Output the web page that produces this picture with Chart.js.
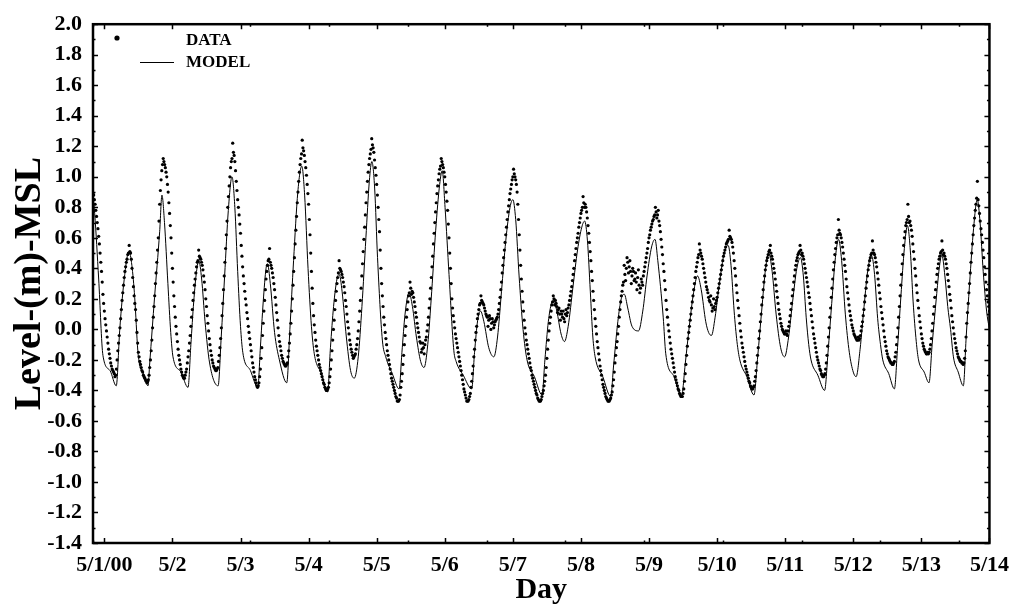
<!DOCTYPE html>
<html>
<head>
<meta charset="utf-8">
<script src="https://cdn.jsdelivr.net/npm/chart.js@4.4.1/dist/chart.umd.min.js"></script>
<style>
  html, body { margin: 0; padding: 0; background: #fff; }
</style>
</head>
<body>
<canvas id="tide" width="1018" height="611"></canvas>
<script>
// observed level, one reading every half hour from 4 h before 5/1 00:00
const dataStartHour = -4;
const dataStepHour = 0.5;
const dataLevel = [
  0.89, 0.85, 0.78, 0.70, 0.61, 0.50, 0.38, 0.23,
  0.12, 0.03, -0.05, -0.13, -0.19, -0.24, -0.27, -0.29, -0.30, -0.20, -0.09, 0.01, 0.13, 0.24, 0.34, 0.41, 0.46, 0.50, 0.51, 0.46, 0.34, 0.22, 0.13, -0.02,
  -0.15, -0.21, -0.25, -0.28, -0.31, -0.33, -0.35, -0.33, -0.25, -0.14, 0.01, 0.15, 0.30, 0.44, 0.60, 0.82, 0.98, 1.08, 1.10, 1.06, 1.00, 0.90, 0.76, 0.60,
  0.40, 0.22, 0.08, -0.03, -0.13, -0.20, -0.26, -0.30, -0.32, -0.30, -0.26, -0.18, -0.09, 0.02, 0.13, 0.24, 0.33, 0.41, 0.45, 0.48, 0.46, 0.42, 0.35, 0.26,
  0.15, 0.04, -0.06, -0.14, -0.20, -0.24, -0.26, -0.27, -0.25, -0.17, -0.06, 0.09, 0.26, 0.44, 0.62, 0.80, 0.94, 1.06, 1.12, 1.16, 1.10, 0.97, 0.85, 0.75,
  0.63, 0.48, 0.35, 0.25, 0.16, 0.07, -0.02, -0.10, -0.18, -0.25, -0.31, -0.35, -0.38, -0.35, -0.26, -0.12, 0.04, 0.19, 0.33, 0.42, 0.46, 0.44, 0.40, 0.34,
  0.26, 0.16, 0.06, -0.04, -0.11, -0.17, -0.21, -0.23, -0.24, -0.22, -0.14, -0.03, 0.12, 0.29, 0.47, 0.65, 0.83, 0.97, 1.08, 1.15, 1.19, 1.14, 1.06, 0.95,
  0.82, 0.62, 0.38, 0.17, 0.03, -0.07, -0.14, -0.20, -0.25, -0.29, -0.33, -0.36, -0.39, -0.40, -0.38, -0.31, -0.20, -0.07, 0.06, 0.19, 0.30, 0.37, 0.40, 0.38,
  0.34, 0.28, 0.19, 0.10, 0.01, -0.07, -0.13, -0.17, -0.18, -0.16, -0.10, -0.01, 0.12, 0.27, 0.43, 0.59, 0.75, 0.90, 1.03, 1.12, 1.18, 1.21, 1.16, 1.06,
  0.95, 0.80, 0.64, 0.40, 0.22, 0.08, -0.02, -0.10, -0.17, -0.23, -0.29, -0.34, -0.38, -0.42, -0.45, -0.47, -0.46, -0.38, -0.29, -0.17, -0.04, 0.08, 0.18, 0.24,
  0.27, 0.25, 0.21, 0.15, 0.08, 0.01, -0.05, -0.09, -0.13, -0.12, -0.10, -0.05, 0.03, 0.14, 0.27, 0.41, 0.56, 0.70, 0.83, 0.94, 1.02, 1.07, 1.10, 1.06,
  1.00, 0.90, 0.78, 0.60, 0.40, 0.20, 0.09, 0.01, -0.06, -0.12, -0.18, -0.24, -0.30, -0.36, -0.41, -0.45, -0.47, -0.46, -0.42, -0.34, -0.24, -0.13, -0.02, 0.07,
  0.13, 0.17, 0.19, 0.17, 0.14, 0.10, 0.08, 0.06, 0.07, 0.04, 0.05, 0.03, 0.06, 0.08, 0.13, 0.21, 0.31, 0.42, 0.52, 0.62, 0.72, 0.81, 0.89, 0.95,
  1.00, 1.02, 0.98, 0.90, 0.72, 0.52, 0.33, 0.18, 0.06, -0.03, -0.10, -0.16, -0.22, -0.27, -0.32, -0.36, -0.40, -0.43, -0.46, -0.47, -0.46, -0.42, -0.37, -0.30,
  -0.19, -0.07, 0.04, 0.12, 0.18, 0.20, 0.19, 0.15, 0.13, 0.10, 0.12, 0.08, 0.07, 0.10, 0.09, 0.14, 0.19, 0.25, 0.32, 0.40, 0.49, 0.57, 0.63, 0.70,
  0.76, 0.80, 0.83, 0.82, 0.77, 0.68, 0.57, 0.45, 0.32, 0.19, 0.07, -0.03, -0.12, -0.20, -0.27, -0.33, -0.38, -0.42, -0.45, -0.47, -0.47, -0.45, -0.41, -0.33,
  -0.22, -0.12, -0.03, 0.08, 0.18, 0.25, 0.31, 0.36, 0.40, 0.44, 0.41, 0.38, 0.35, 0.38, 0.33, 0.31, 0.34, 0.29, 0.27, 0.31, 0.35, 0.41, 0.47, 0.53,
  0.60, 0.65, 0.69, 0.72, 0.75, 0.77, 0.75, 0.71, 0.64, 0.54, 0.43, 0.32, 0.19, 0.08, -0.01, -0.09, -0.16, -0.22, -0.28, -0.33, -0.37, -0.40, -0.43, -0.44,
  -0.42, -0.34, -0.23, -0.11, -0.02, 0.06, 0.14, 0.22, 0.30, 0.38, 0.44, 0.49, 0.52, 0.48, 0.43, 0.37, 0.31, 0.26, 0.21, 0.18, 0.16, 0.14, 0.15, 0.17,
  0.21, 0.27, 0.33, 0.39, 0.45, 0.50, 0.54, 0.57, 0.59, 0.61, 0.59, 0.54, 0.45, 0.35, 0.24, 0.14, 0.04, -0.05, -0.12, -0.18, -0.24, -0.28, -0.32, -0.35,
  -0.38, -0.39, -0.37, -0.31, -0.22, -0.12, -0.01, 0.10, 0.21, 0.31, 0.39, 0.45, 0.49, 0.52, 0.50, 0.46, 0.40, 0.33, 0.25, 0.17, 0.10, 0.04, 0.00, -0.02,
  -0.03, -0.03, -0.01, 0.05, 0.13, 0.22, 0.31, 0.39, 0.45, 0.49, 0.51, 0.52, 0.50, 0.46, 0.40, 0.34, 0.28, 0.21, 0.13, 0.05, -0.03, -0.09, -0.15, -0.20,
  -0.24, -0.27, -0.30, -0.31, -0.29, -0.22, -0.11, 0.01, 0.14, 0.27, 0.39, 0.49, 0.57, 0.62, 0.65, 0.62, 0.57, 0.50, 0.42, 0.33, 0.24, 0.16, 0.09, 0.03,
  -0.01, -0.04, -0.06, -0.07, -0.07, -0.04, 0.02, 0.09, 0.18, 0.27, 0.35, 0.42, 0.47, 0.50, 0.52, 0.49, 0.44, 0.37, 0.29, 0.20, 0.11, 0.03, -0.05, -0.11,
  -0.16, -0.19, -0.21, -0.22, -0.23, -0.21, -0.15, -0.05, 0.08, 0.22, 0.36, 0.49, 0.60, 0.68, 0.72, 0.74, 0.71, 0.65, 0.56, 0.46, 0.35, 0.24, 0.14, 0.05,
  -0.03, -0.09, -0.13, -0.15, -0.16, -0.16, -0.13, -0.06, 0.04, 0.15, 0.26, 0.36, 0.43, 0.48, 0.51, 0.52, 0.50, 0.46, 0.40, 0.32, 0.23, 0.14, 0.05, -0.03,
  -0.09, -0.14, -0.18, -0.20, -0.21, -0.22, -0.22, -0.14, 0.04, 0.17, 0.30, 0.44, 0.56, 0.68, 0.78, 0.86, 0.85, 0.76, 0.66, 0.57, 0.47, 0.36, 0.26, 0.18,
  0.12
];
// the readings taken a quarter hour after each of the ones above
const dataLevelQuarter = [
  0.88, 0.82, 0.74, 0.66, 0.56, 0.44, 0.31, 0.17,
  0.07, -0.01, -0.09, -0.16, -0.22, -0.26, -0.28, -0.31, -0.26, -0.14, -0.04, 0.07, 0.19, 0.29, 0.38, 0.44, 0.49, 0.55, 0.50, 0.40, 0.28, 0.17, 0.06, -0.09,
  -0.18, -0.23, -0.27, -0.30, -0.32, -0.34, -0.34, -0.30, -0.20, -0.07, 0.08, 0.22, 0.37, 0.52, 0.71, 0.91, 1.04, 1.12, 1.08, 1.03, 0.95, 0.83, 0.68, 0.50,
  0.31, 0.15, 0.02, -0.08, -0.17, -0.23, -0.28, -0.31, -0.32, -0.28, -0.22, -0.14, -0.04, 0.08, 0.19, 0.29, 0.37, 0.44, 0.52, 0.47, 0.44, 0.39, 0.31, 0.20,
  0.09, -0.01, -0.10, -0.17, -0.22, -0.25, -0.27, -0.26, -0.21, -0.12, 0.01, 0.17, 0.35, 0.53, 0.71, 0.87, 1.00, 1.10, 1.22, 1.14, 1.04, 0.91, 0.80, 0.69,
  0.55, 0.41, 0.30, 0.20, 0.11, 0.02, -0.06, -0.14, -0.22, -0.28, -0.33, -0.37, -0.37, -0.31, -0.19, -0.04, 0.12, 0.26, 0.38, 0.45, 0.53, 0.42, 0.37, 0.30,
  0.21, 0.11, 0.01, -0.08, -0.14, -0.19, -0.22, -0.24, -0.23, -0.18, -0.09, 0.04, 0.20, 0.38, 0.56, 0.74, 0.90, 1.03, 1.12, 1.24, 1.17, 1.10, 1.01, 0.89,
  0.72, 0.50, 0.27, 0.09, -0.02, -0.11, -0.17, -0.23, -0.27, -0.31, -0.35, -0.38, -0.40, -0.39, -0.35, -0.26, -0.14, 0.00, 0.13, 0.25, 0.34, 0.45, 0.39, 0.36,
  0.31, 0.24, 0.15, 0.05, -0.03, -0.10, -0.15, -0.19, -0.17, -0.13, -0.06, 0.05, 0.19, 0.35, 0.51, 0.67, 0.83, 0.97, 1.08, 1.15, 1.25, 1.19, 1.11, 1.01,
  0.88, 0.72, 0.52, 0.30, 0.15, 0.03, -0.06, -0.14, -0.20, -0.26, -0.32, -0.36, -0.40, -0.44, -0.47, -0.47, -0.43, -0.34, -0.23, -0.10, 0.02, 0.13, 0.22, 0.31,
  0.23, 0.24, 0.18, 0.11, 0.04, -0.02, -0.08, -0.15, -0.09, -0.16, -0.07, -0.01, 0.08, 0.20, 0.34, 0.48, 0.63, 0.77, 0.89, 0.98, 1.05, 1.12, 1.08, 1.03,
  0.95, 0.84, 0.69, 0.50, 0.30, 0.14, 0.05, -0.03, -0.09, -0.15, -0.21, -0.27, -0.33, -0.39, -0.43, -0.47, -0.47, -0.44, -0.38, -0.29, -0.18, -0.07, 0.02, 0.10,
  0.16, 0.22, 0.18, 0.16, 0.12, 0.09, 0.02, 0.09, 0.00, 0.07, 0.01, 0.05, 0.07, 0.10, 0.17, 0.26, 0.37, 0.47, 0.57, 0.67, 0.77, 0.85, 0.92, 0.98,
  1.05, 1.00, 0.95, 0.82, 0.62, 0.42, 0.25, 0.12, 0.01, -0.07, -0.13, -0.19, -0.25, -0.30, -0.34, -0.38, -0.42, -0.45, -0.47, -0.47, -0.44, -0.40, -0.34, -0.25,
  -0.13, -0.01, 0.08, 0.16, 0.22, 0.16, 0.17, 0.11, 0.14, 0.06, 0.10, 0.12, 0.05, 0.13, 0.11, 0.16, 0.22, 0.28, 0.36, 0.45, 0.53, 0.60, 0.67, 0.73,
  0.78, 0.87, 0.80, 0.80, 0.73, 0.63, 0.51, 0.38, 0.25, 0.13, 0.02, -0.08, -0.16, -0.24, -0.30, -0.36, -0.40, -0.44, -0.46, -0.47, -0.46, -0.43, -0.37, -0.28,
  -0.17, -0.08, 0.02, 0.13, 0.22, 0.29, 0.42, 0.32, 0.47, 0.37, 0.45, 0.30, 0.40, 0.32, 0.37, 0.26, 0.39, 0.24, 0.33, 0.29, 0.38, 0.44, 0.50, 0.57,
  0.62, 0.67, 0.71, 0.74, 0.80, 0.73, 0.78, 0.68, 0.59, 0.49, 0.38, 0.26, 0.13, 0.03, -0.05, -0.13, -0.19, -0.25, -0.31, -0.35, -0.39, -0.42, -0.44, -0.44,
  -0.39, -0.29, -0.17, -0.06, 0.02, 0.10, 0.18, 0.26, 0.34, 0.41, 0.47, 0.56, 0.50, 0.46, 0.40, 0.34, 0.28, 0.24, 0.19, 0.22, 0.12, 0.20, 0.13, 0.19,
  0.24, 0.30, 0.36, 0.42, 0.48, 0.52, 0.56, 0.58, 0.65, 0.60, 0.57, 0.50, 0.40, 0.29, 0.19, 0.09, -0.01, -0.09, -0.15, -0.21, -0.26, -0.30, -0.34, -0.37,
  -0.39, -0.38, -0.34, -0.27, -0.17, -0.06, 0.05, 0.16, 0.26, 0.35, 0.42, 0.47, 0.51, 0.55, 0.48, 0.43, 0.37, 0.29, 0.21, 0.13, 0.07, 0.02, -0.01, -0.03,
  -0.01, -0.04, 0.02, 0.09, 0.17, 0.26, 0.35, 0.42, 0.47, 0.50, 0.55, 0.49, 0.48, 0.43, 0.37, 0.31, 0.24, 0.17, 0.09, 0.01, -0.06, -0.12, -0.18, -0.22,
  -0.26, -0.29, -0.31, -0.30, -0.26, -0.17, -0.05, 0.08, 0.21, 0.33, 0.44, 0.53, 0.60, 0.72, 0.63, 0.60, 0.54, 0.46, 0.38, 0.28, 0.20, 0.12, 0.06, 0.01,
  -0.03, -0.05, -0.07, -0.05, -0.06, -0.01, 0.05, 0.13, 0.22, 0.31, 0.39, 0.45, 0.49, 0.58, 0.50, 0.47, 0.41, 0.33, 0.24, 0.15, 0.07, -0.01, -0.08, -0.14,
  -0.18, -0.20, -0.22, -0.23, -0.22, -0.18, -0.10, 0.01, 0.15, 0.29, 0.43, 0.55, 0.64, 0.70, 0.82, 0.70, 0.68, 0.61, 0.51, 0.40, 0.29, 0.19, 0.09, 0.01,
  -0.06, -0.11, -0.14, -0.16, -0.15, -0.15, -0.10, -0.01, 0.10, 0.21, 0.31, 0.40, 0.46, 0.50, 0.58, 0.49, 0.48, 0.43, 0.36, 0.28, 0.19, 0.09, 0.01, -0.06,
  -0.12, -0.16, -0.19, -0.21, -0.22, -0.23, -0.19, -0.05, 0.11, 0.24, 0.37, 0.50, 0.62, 0.73, 0.82, 0.97, 0.81, 0.71, 0.62, 0.52, 0.41, 0.31, 0.22, 0.15
];

// model output, vertices of the line (hours from 5/1 00:00, level m)
const modelHours = [
  -4.0, -3.4, -2.0, -0.5, 2.0, 4.2, 5.4, 6.3, 7.2, 8.0, 8.7, 9.7, 10.7, 11.8, 12.3, 14.0, 15.4, 16.0, 17.7, 19.5, 20.3,
  21.2, 22.4, 23.4, 24.2, 27.0, 29.5, 30.5, 31.5, 32.5, 33.3, 34.3, 35.5, 37.1, 40.1, 41.2, 42.4, 43.7, 45.0,
  46.0, 47.0, 48.0, 48.8, 51.5, 54.1, 55.0, 56.0, 57.0, 57.5, 58.5, 60.0, 61.7, 64.3, 65.4, 66.7, 68.2, 69.6,
  70.6, 71.8, 73.0, 74.0, 76.5, 78.7, 79.7, 80.8, 82.0, 82.8, 83.8, 85.3, 86.8, 88.1, 89.5, 90.8, 92.2, 93.4, 94.3,
  95.3, 96.3, 98.0, 99.2, 101.5, 103.9, 104.9, 106.0, 107.4, 108.6, 110.0, 111.5, 112.7, 114.0, 115.4, 116.8, 118.2, 119.1,
  120.1, 121.5, 123.2, 124.0, 126.5, 129.5, 130.5, 131.6, 132.6, 133.8, 135.5, 137.3, 138.6, 140.0, 141.5, 143.0, 144.0,
  145.0, 146.2, 147.6, 149.0, 151.6, 154.3, 155.3, 156.5, 157.6, 158.4, 159.5, 161.0, 162.2, 163.5, 165.2, 166.8, 168.3, 169.3,
  170.3, 171.3, 172.2, 173.0, 175.7, 178.5, 179.5, 181.0, 182.2, 183.3, 184.5, 186.0, 188.3, 189.8, 191.3, 192.9, 194.1,
  195.1, 197.0, 197.9, 200.8, 203.5, 204.8, 206.2, 207.7, 209.1, 210.4, 212.0, 213.0, 214.0, 215.3, 216.8, 218.5, 219.9,
  220.9, 222.0, 223.0, 224.0, 226.5, 229.0, 230.3, 231.7, 233.1, 234.2, 235.4, 236.8, 238.4, 239.8, 241.2, 242.6, 244.1, 245.4,
  246.4, 247.4, 248.3, 249.1, 251.5, 253.9, 255.1, 256.4, 257.7, 258.8, 259.9, 261.2, 262.6, 264.0, 265.0, 266.4, 267.8, 269.2, 270.5,
  271.5, 272.6, 273.6, 274.4, 276.5, 278.5, 279.6, 280.8, 282.0, 283.1, 284.1, 285.1, 286.2, 287.0, 289.0, 290.7, 291.8, 293.3, 294.3, 295.2,
  296.3, 297.3, 298.3, 299.3, 301.0, 302.8, 303.8, 305.0, 306.4, 307.7, 308.7, 309.8, 311.0, 312.0
];
const modelLevel = [
  0.88, 0.76, 0.33, -0.17, -0.27, -0.37, -0.01, 0.20, 0.36, 0.47, 0.51, 0.42, 0.21, -0.14, -0.22, -0.30, -0.37, -0.22, 0.21, 0.64, 0.88,
  0.70, 0.30, -0.02, -0.18, -0.28, -0.38, -0.10, 0.18, 0.38, 0.45, 0.33, 0.05, -0.22, -0.37, -0.05, 0.35, 0.78, 1.00,
  0.80, 0.38, 0.02, -0.15, -0.27, -0.38, -0.12, 0.18, 0.40, 0.43, 0.30, -0.02, -0.20, -0.35, 0.00, 0.45, 0.90, 1.07,
  0.88, 0.40, 0.02, -0.16, -0.29, -0.41, -0.12, 0.15, 0.33, 0.36, 0.25, -0.05, -0.27, -0.32, -0.18, 0.15, 0.60, 0.97, 1.10,
  0.92, 0.47, -0.07, -0.18, -0.29, -0.39, -0.15, 0.10, 0.24, 0.15, -0.05, -0.21, -0.25, -0.10, 0.25, 0.65, 0.95, 1.04,
  0.80, 0.36, -0.14, -0.21, -0.30, -0.39, -0.15, 0.06, 0.12, 0.05, -0.12, -0.18, -0.05, 0.25, 0.58, 0.80, 0.85,
  0.72, 0.35, 0.00, -0.20, -0.31, -0.43, -0.20, 0.05, 0.17, 0.19, 0.12, -0.03, -0.08, 0.02, 0.28, 0.52, 0.67, 0.71,
  0.58, 0.25, -0.05, -0.18, -0.31, -0.44, -0.24, 0.05, 0.20, 0.23, 0.14, 0.02, -0.01, 0.12, 0.35, 0.54, 0.59,
  0.45, 0.08, -0.16, -0.31, -0.43, -0.22, 0.02, 0.24, 0.35, 0.26, 0.05, -0.02, -0.04, 0.08, 0.30, 0.50, 0.55,
  0.42, 0.12, -0.08, -0.20, -0.31, -0.43, -0.18, 0.12, 0.40, 0.50, 0.38, 0.10, -0.12, -0.18, -0.05, 0.18, 0.40, 0.47,
  0.35, 0.08, -0.10, -0.20, -0.30, -0.40, -0.15, 0.17, 0.47, 0.59, 0.45, 0.10, -0.15, -0.28, -0.31, -0.13, 0.15, 0.40, 0.48,
  0.36, 0.07, -0.10, -0.20, -0.29, -0.39, -0.12, 0.22, 0.53, 0.68, 0.52, 0.18, -0.08, -0.20, -0.28, -0.35, -0.10, 0.21, 0.40, 0.49,
  0.35, 0.15, 0.00, -0.18, -0.28, -0.37, -0.05, 0.30, 0.66, 0.85, 0.70, 0.38, 0.12, 0.00
];

const dayTickHours = [0, 24, 48, 72, 96, 120, 144, 168, 192, 216, 240, 264, 288, 312];
const dayTickLabels = ["5/1/00", "5/2", "5/3", "5/4", "5/5", "5/6", "5/7", "5/8", "5/9", "5/10", "5/11", "5/12", "5/13", "5/14"];

const serif = "'Liberation Serif', 'Times New Roman', serif";

const dataPoints = [];
dataLevel.forEach((v, i) => {
  const h = dataStartHour + i * dataStepHour;
  dataPoints.push({ x: h, y: v });
  if (i < dataLevelQuarter.length) dataPoints.push({ x: h + dataStepHour / 2, y: dataLevelQuarter[i] });
});
const modelPoints = modelHours.map((h, i) => ({ x: h, y: modelLevel[i] }));

// frame, inward ticks on all four sides, and the legend box in the corner
const framePlugin = {
  id: "frame",
  afterDraw(chart) {
    const { ctx, chartArea: a, scales: { x, y } } = chart;
    ctx.save();
    ctx.strokeStyle = "#000";

    ctx.lineWidth = 1.5;
    ctx.beginPath();
    for (let k = 0; k <= 34; k++) {
      const v = -1.4 + k * 0.1;
      const py = Math.round(y.getPixelForValue(v)) + 0.5;
      const len = k % 2 === 0 ? 5 : 2.5;
      ctx.moveTo(a.left, py); ctx.lineTo(a.left + len, py);
      ctx.moveTo(a.right, py); ctx.lineTo(a.right - len, py);
    }
    dayTickHours.forEach(h => {
      const px = Math.round(x.getPixelForValue(h)) + 0.5;
      ctx.moveTo(px, a.bottom); ctx.lineTo(px, a.bottom - 5);
      ctx.moveTo(px, a.top); ctx.lineTo(px, a.top + 5);
    });
    for (let h = x.min; h <= x.max; h += 27.75) {
      const px = Math.round(x.getPixelForValue(h)) + 0.5;
      ctx.moveTo(px, a.bottom); ctx.lineTo(px, a.bottom - 2.5);
      ctx.moveTo(px, a.top); ctx.lineTo(px, a.top + 2.5);
    }
    ctx.stroke();

    ctx.lineWidth = 2.5;
    ctx.strokeRect(a.left, a.top, a.right - a.left, a.bottom - a.top);

    // legend
    const ds = chart.data.datasets;
    ctx.fillStyle = "#000";
    ctx.beginPath();
    ctx.arc(117, 38, 2.6, 0, Math.PI * 2);
    ctx.fill();
    ctx.lineWidth = 1;
    ctx.beginPath();
    ctx.moveTo(140, 62.5); ctx.lineTo(174, 62.5);
    ctx.stroke();
    ctx.font = "bold 17px " + serif;
    ctx.textBaseline = "middle";
    ctx.textAlign = "left";
    ctx.fillText(ds[0].label, 186, 41);
    ctx.fillText(ds[1].label, 186, 63);
    ctx.restore();
  }
};

new Chart(document.getElementById("tide"), {
  type: "scatter",
  data: {
    datasets: [
      {
        label: "DATA",
        data: dataPoints,
        showLine: false,
        pointRadius: 1.6,
        pointBorderWidth: 0,
        pointBackgroundColor: "#000",
        pointHoverRadius: 0
      },
      {
        label: "MODEL",
        data: modelPoints,
        showLine: true,
        borderColor: "#000",
        borderWidth: 1,
        pointRadius: 0,
        cubicInterpolationMode: "monotone",
        fill: false
      }
    ]
  },
  options: {
    responsive: false,
    animation: false,
    devicePixelRatio: 1,
    layout: { autoPadding: false, padding: { left: 0, top: 15, right: 26, bottom: 0 } },
    plugins: { legend: { display: false }, tooltip: { enabled: false } },
    scales: {
      x: {
        type: "linear",
        min: -4,
        max: 312,
        afterBuildTicks: s => { s.ticks = dayTickHours.map(v => ({ value: v })); },
        afterFit: s => { s.height = 68; },
        grid: { display: false, drawTicks: false },
        border: { display: false },
        ticks: {
          autoSkip: false,
          maxRotation: 0,
          padding: 9,
          color: "#000",
          font: { family: serif, size: 22, weight: "bold" },
          callback: v => dayTickLabels[dayTickHours.indexOf(v)]
        },
        title: {
          display: true,
          text: "Day",
          color: "#000",
          font: { family: serif, size: 30, weight: "bold" },
          padding: { top: 0, bottom: 3 }
        }
      },
      y: {
        min: -1.4,
        max: 2.0,
        afterFit: s => { s.width = 93; },
        grid: { display: false, drawTicks: false },
        border: { display: false },
        ticks: {
          stepSize: 0.2,
          padding: 11,
          color: "#000",
          font: { family: serif, size: 22, weight: "bold" },
          callback: v => (Math.abs(v) < 1e-9 ? 0 : v).toFixed(1)
        },
        title: {
          display: true,
          text: "Level-(m)-MSL",
          color: "#000",
          font: { family: serif, size: 38, weight: "bold" },
          padding: { top: 7, bottom: 0 }
        }
      }
    }
  },
  plugins: [framePlugin]
});
</script>
</body>
</html>
